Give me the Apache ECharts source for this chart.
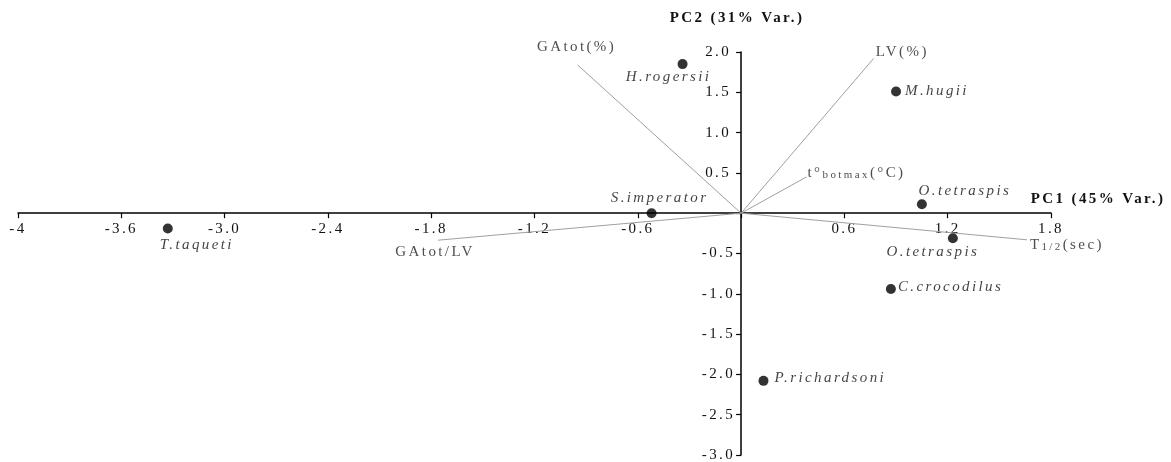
<!DOCTYPE html>
<html>
<head>
<meta charset="utf-8">
<script src="https://cdn.jsdelivr.net/npm/echarts@6/dist/echarts.min.js"></script>
<style>
  html, body { margin: 0; padding: 0; background: #ffffff; }
  #chart { width: 1171px; height: 462px; }
</style>
</head>
<body>
<div id="chart"></div>
<script>
// PCA biplot: species scores on PC1/PC2 plus variable loading vectors
const speciesNames = ['T.taqueti', 'S.imperator', 'H.rogersii', 'M.hugii', 'O.tetraspis', 'O.tetraspis', 'C.crocodilus', 'P.richardsoni'];
const pc1Scores = [-3.33, -0.52, -0.34, 0.90, 1.05, 1.23, 0.87, 0.13];
const pc2Scores = [-0.19, 0.00, 1.85, 1.51, 0.11, -0.31, -0.94, -2.08];

const loadingNames = ['GAtot(%)', 'LV(%)', '{n2|t°}{s|botmax}(°C)', '{n1|T}{s3|1/2}(sec)', 'GAtot/LV'];
const loadingPC1 = [-0.95, 0.77, 0.38, 1.66, -1.76];
const loadingPC2 = [1.84, 1.92, 0.45, -0.33, -0.335];

const xTickLabels = ['-4', '-3.6', '-3.0', '-2.4', '-1.8', '-1.2', '-0.6', '', '0.6', '1.2', '1.8'];
const yTickLabels = ['-3.0', '-2.5', '-2.0', '-1.5', '-1.0', '-0.5', '', '0.5', '1.0', '1.5', '2.0'];

const xMin = -4.2, xMax = 1.8, xStep = 0.6;
const yMin = -3, yMax = 2, yStep = 0.5;

const FONT = '"Liberation Serif", "Times New Roman", serif';
const SPACING = 2.4; // letter spacing (px) used for all chart text

// plot area
const W = 1171, H = 462;
const GRID = { left: 18, right: 120, top: 52, bottom: 7 };
const gridW = W - GRID.left - GRID.right;
const gridH = H - GRID.top - GRID.bottom;
// pixel distances from the grid edges to the zero lines, so both axes cross at the origin
const xAxisLift = gridH * (0 - yMin) / (yMax - yMin);
const yAxisShift = gridW * (0 - xMin) / (xMax - xMin);

// label placement for each species point
const speciesLabelPlacement = [
  { position: 'inside', offset: [29, 17] },
  { position: 'inside', offset: [8, -15] },
  { position: 'inside', offset: [-14, 13] },
  { position: 'right', distance: 4, offset: [0, 0] },
  { position: 'inside', offset: [43, -13] },
  { position: 'inside', offset: [-20, 14] },
  { position: 'right', distance: 2, offset: [0, -2] },
  { position: 'right', distance: 6, offset: [0, -3] }
];

// label placement for each loading vector tip
const loadingLabelPlacement = [
  { position: 'inside', offset: [-1, -18] },
  { position: 'right', distance: 2, offset: [0, -6] },
  { position: 'right', distance: 1, offset: [0, -4] },
  { position: 'right', distance: 0, offset: [3, 5] },
  { position: 'inside', offset: [-3, 12] }
];

const vectorSeries = loadingNames.map((name, i) => ({
  type: 'line',
  data: [[0, 0], [loadingPC1[i], loadingPC2[i]]],
  symbol: 'none',
  lineStyle: { color: '#a0a0a0', width: 1 },
  silent: true,
  z: 1
}));

// rich fragments get right padding so spaced-out letters do not run into the next fragment
const richFrag = (size, nChars, extra) => Object.assign({
  fontFamily: FONT, fontSize: size, color: '#222',
  padding: [0, nChars * SPACING, 0, 0]
}, extra || {});

const vectorLabelSeries = {
  type: 'scatter',
  symbolSize: 0,
  silent: true,
  z: 3,
  data: loadingNames.map((name, i) => ({
    value: [loadingPC1[i], loadingPC2[i]],
    label: Object.assign({
      show: true,
      formatter: name,
      fontFamily: FONT,
      fontSize: 15,
      color: '#222',
      rich: {
        n1: richFrag(15, 1),
        n2: richFrag(15, 2),
        s: richFrag(11, 6, { verticalAlign: 'bottom' }),
        s3: richFrag(11, 3, { verticalAlign: 'bottom' })
      }
    }, loadingLabelPlacement[i])
  }))
};

const speciesSeries = {
  type: 'scatter',
  symbol: 'circle',
  symbolSize: 10,
  itemStyle: { color: '#000' },
  z: 4,
  data: speciesNames.map((name, i) => ({
    value: [pc1Scores[i], pc2Scores[i]],
    label: Object.assign({
      show: true,
      formatter: name,
      fontFamily: FONT,
      fontStyle: 'italic',
      fontSize: 15,
      color: '#111'
    }, speciesLabelPlacement[i])
  }))
};

const chart = echarts.init(document.getElementById('chart'), null, { renderer: 'canvas' });

chart.setOption({
  backgroundColor: '#ffffff',
  animation: false,
  grid: Object.assign({ containLabel: false, outerBoundsMode: 'none' }, GRID),
  xAxis: {
    type: 'value',
    position: 'bottom',
    offset: -xAxisLift,
    min: xMin, max: xMax, interval: xStep,
    axisLine: { onZero: false, lineStyle: { color: '#000', width: 1.5 } },
    axisTick: { show: true, length: 5, lineStyle: { color: '#000', width: 1.2 } },
    splitLine: { show: false },
    axisLabel: {
      fontFamily: FONT, fontSize: 15, color: '#111', margin: 8,
      formatter: v => xTickLabels[Math.round((v - xMin) / xStep)] || ''
    }
  },
  yAxis: {
    type: 'value',
    position: 'left',
    offset: -yAxisShift,
    min: yMin, max: yMax, interval: yStep,
    axisLine: { onZero: false, lineStyle: { color: '#000', width: 1.5 } },
    axisTick: { show: true, length: 5, lineStyle: { color: '#000', width: 1.2 } },
    splitLine: { show: false },
    axisLabel: {
      fontFamily: FONT, fontSize: 15, color: '#111', margin: 6,
      formatter: v => {
        const t = yTickLabels[Math.round((v - yMin) / yStep)] || '';
        // positive values sit a little further from the axis
        return v > 0 ? '{p|' + t + '}' : t;
      },
      rich: { p: { fontFamily: FONT, fontSize: 15, color: '#111', padding: [0, 4, 0, 0] } }
    }
  },
  graphic: [
    {
      type: 'text', x: 737, y: 18, silent: true,
      style: { text: 'PC2 (31% Var.)', font: 'bold 15px ' + FONT, fill: '#111', align: 'center', verticalAlign: 'middle' }
    },
    {
      type: 'text', x: 1098, y: 199, silent: true,
      style: { text: 'PC1 (45% Var.)', font: 'bold 15px ' + FONT, fill: '#111', align: 'center', verticalAlign: 'middle' }
    }
  ],
  series: [...vectorSeries, vectorLabelSeries, speciesSeries]
});

// widen the text tracking on the drawing layers, then repaint everything
const zr = chart.getZr();
zr.refreshImmediately();
if (zr.painter && zr.painter.eachLayer) {
  zr.painter.eachLayer(layer => {
    if (layer.ctx && 'letterSpacing' in layer.ctx) layer.ctx.letterSpacing = SPACING + 'px';
  });
}
zr.storage.getDisplayList(true).forEach(el => el.markRedraw());
zr.refreshImmediately();
</script>
</body>
</html>
